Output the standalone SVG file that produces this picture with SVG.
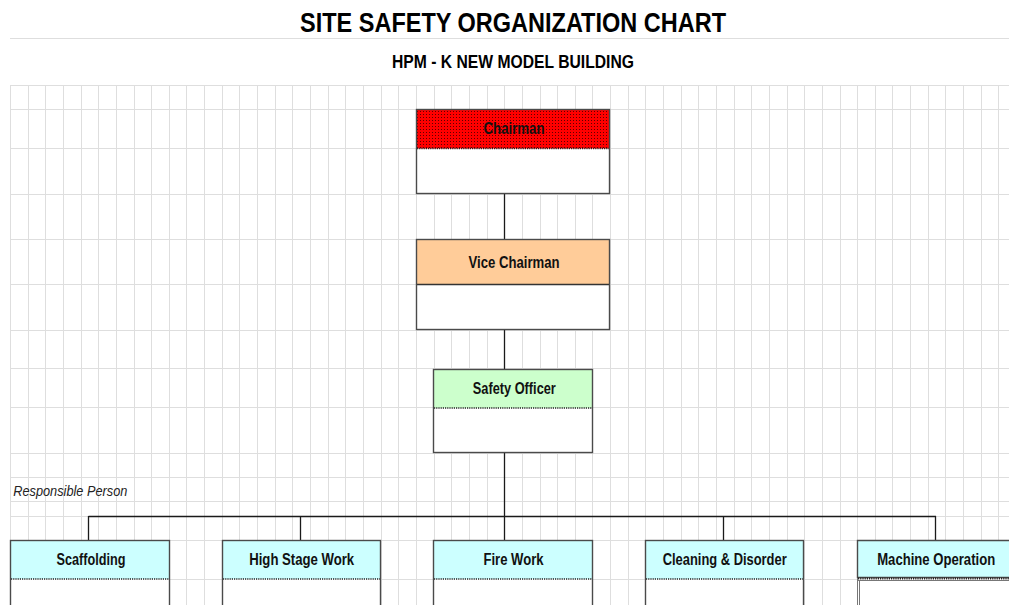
<svg xmlns="http://www.w3.org/2000/svg" width="1009" height="605" viewBox="0 0 1009 605">
<style>
.grid{stroke:#dedede;stroke-width:1;fill:none}
.box{stroke:#4a4a4a;stroke-width:1.4}
.sep{stroke:#222;stroke-width:1.3;stroke-dasharray:1.2 1}
.conn{stroke:#1a1a1a;stroke-width:1.3;fill:none}
.lbl{font-family:"Liberation Sans Narrow","Liberation Sans",Arial,sans-serif;font-weight:bold;font-size:16px;fill:#111;text-anchor:middle}
.ttl{font-family:"Liberation Sans Narrow","Liberation Sans",Arial,sans-serif;font-weight:bold;fill:#000;text-anchor:middle}
</style>
<defs>
<pattern id="dots" width="3" height="3" patternUnits="userSpaceOnUse">
<rect width="3" height="3" fill="#ff0000"/>
<rect x="0" y="0" width="1" height="1" fill="#600000"/>
</pattern>
</defs>
<rect width="1009" height="605" fill="#ffffff"/>
<g id="grid">
<path class="grid" d="M10 38.5H1009M10 85.5H1009M10 109.5H1009M10 148.5H1009M10 194.5H1009M10 239.5H1009M10 284.5H1009M10 330.5H1009M10 368.5H1009M10 407.5H1009M10 453.5H1009M10 477.5H1009M10 501.5H1009M10 516.5H1009M10 540.5H1009M10 579.5H1009"/>
<path class="grid" d="M10.5 85V605M28.5 85V605M45.5 85V605M63.5 85V605M81.5 85V605M98.5 85V605M116.5 85V605M134.5 85V605M151.5 85V605M169.5 85V605M186.5 85V605M204.5 85V605M222.5 85V605M239.5 85V605M257.5 85V605M275.5 85V605M292.5 85V605M310.5 85V605M328.5 85V605M345.5 85V605M363.5 85V605M381.5 85V605M398.5 85V605M416.5 85V605M434.5 85V605M451.5 85V605M469.5 85V605M487.5 85V605M504.5 85V605M522.5 85V605M540.5 85V605M557.5 85V605M575.5 85V605M592.5 85V605M610.5 85V605M628.5 85V605M645.5 85V605M663.5 85V605M681.5 85V605M698.5 85V605M716.5 85V605M734.5 85V605M751.5 85V605M769.5 85V605M787.5 85V605M804.5 85V605M822.5 85V605M840.5 85V605M857.5 85V605M875.5 85V605M892.5 85V605M910.5 85V605M928.5 85V605M945.5 85V605M963.5 85V605M981.5 85V605M998.5 85V605"/>
</g>
<g id="title">
<text class="ttl" x="513" y="32" font-size="27" textLength="426" lengthAdjust="spacingAndGlyphs">SITE SAFETY ORGANIZATION CHART</text>
<text class="ttl" x="513" y="68" font-size="18" textLength="242" lengthAdjust="spacingAndGlyphs">HPM - K NEW MODEL BUILDING</text>
</g>
<g id="connectors">
<path class="conn" d="M504.5 194V240M504.5 330V369M504.5 453V516.5M88.5 516.5H936M88.5 516V540M300.5 516V540M504.5 516V540M723.5 516V540M935.5 516V540"/>
</g>
<g id="chairman">
<rect x="416.5" y="109.5" width="193" height="84" fill="#ffffff"/>
<rect x="417" y="110" width="192" height="38.5" fill="url(#dots)"/>
<line class="sep" x1="417" y1="148.5" x2="609" y2="148.5"/>
<rect class="box" x="416.5" y="109.5" width="193" height="84" fill="none"/>
<text class="lbl" x="514" y="134" textLength="61" lengthAdjust="spacingAndGlyphs">Chairman</text>
</g>
<g id="vice-chairman">
<rect x="416.5" y="239.5" width="193" height="90" fill="#ffffff"/>
<rect x="417" y="240" width="192" height="44" fill="#ffcc99"/>
<line x1="417" y1="284.5" x2="609" y2="284.5" stroke="#333" stroke-width="1.3"/>
<rect class="box" x="416.5" y="239.5" width="193" height="90" fill="none"/>
<text class="lbl" x="514" y="267.5" textLength="91" lengthAdjust="spacingAndGlyphs">Vice Chairman</text>
</g>
<g id="safety-officer">
<rect x="433.5" y="369.5" width="159" height="83" fill="#ffffff"/>
<rect x="434" y="370" width="158" height="38" fill="#ccffcc"/>
<line class="sep" x1="434" y1="408" x2="592" y2="408"/>
<rect class="box" x="433.5" y="369.5" width="159" height="83" fill="none"/>
<text class="lbl" x="514.3" y="393.5" textLength="83" lengthAdjust="spacingAndGlyphs">Safety Officer</text>
</g>
<text x="13.3" y="495.5" font-family="'Liberation Sans Narrow','Liberation Sans',Arial,sans-serif" font-style="italic" font-size="15" fill="#222" textLength="114" lengthAdjust="spacingAndGlyphs">Responsible Person</text>
<g id="scaffolding">
<rect x="10.5" y="540.5" width="159" height="70" fill="#ffffff"/>
<rect x="11" y="541" width="158" height="38" fill="#ccffff"/>
<line class="sep" x1="11" y1="579" x2="169" y2="579"/>
<rect class="box" x="10.5" y="540.5" width="159" height="70" fill="none"/>
<text class="lbl" x="91" y="565" textLength="69" lengthAdjust="spacingAndGlyphs">Scaffolding</text>
</g>
<g id="high-stage-work">
<rect x="222.5" y="540.5" width="158" height="70" fill="#ffffff"/>
<rect x="223" y="541" width="157" height="38" fill="#ccffff"/>
<line class="sep" x1="223" y1="579" x2="380" y2="579"/>
<rect class="box" x="222.5" y="540.5" width="158" height="70" fill="none"/>
<text class="lbl" x="301.7" y="564.5" textLength="105" lengthAdjust="spacingAndGlyphs">High Stage Work</text>
</g>
<g id="fire-work">
<rect x="433.5" y="540.5" width="159" height="70" fill="#ffffff"/>
<rect x="434" y="541" width="158" height="38" fill="#ccffff"/>
<line class="sep" x1="434" y1="579" x2="592" y2="579"/>
<rect class="box" x="433.5" y="540.5" width="159" height="70" fill="none"/>
<text class="lbl" x="513.5" y="564.5" textLength="60" lengthAdjust="spacingAndGlyphs">Fire Work</text>
</g>
<g id="cleaning-disorder">
<rect x="645.5" y="540.5" width="158" height="70" fill="#ffffff"/>
<rect x="646" y="541" width="157" height="38" fill="#ccffff"/>
<line class="sep" x1="646" y1="579" x2="803" y2="579"/>
<rect class="box" x="645.5" y="540.5" width="158" height="70" fill="none"/>
<text class="lbl" x="724.7" y="564.5" textLength="124" lengthAdjust="spacingAndGlyphs">Cleaning &amp; Disorder</text>
</g>
<g id="machine-operation">
<rect x="857" y="578" width="152" height="27" fill="#ffffff"/>
<path d="M1009 540.5H857.5V577.5H1009" fill="#ccffff" stroke="#4a4a4a" stroke-width="1.4"/>
<line x1="858" y1="578.5" x2="1009" y2="578.5" stroke="#222" stroke-width="2" stroke-dasharray="1.2 1"/>
<line x1="858" y1="580.5" x2="1009" y2="580.5" stroke="#777" stroke-width="1"/>
<path d="M857.5 578V605M859.5 580V605" stroke="#777" stroke-width="1" fill="none"/>
<text class="lbl" x="936.2" y="564.5" textLength="118" lengthAdjust="spacingAndGlyphs">Machine Operation</text>
</g>
</svg>
